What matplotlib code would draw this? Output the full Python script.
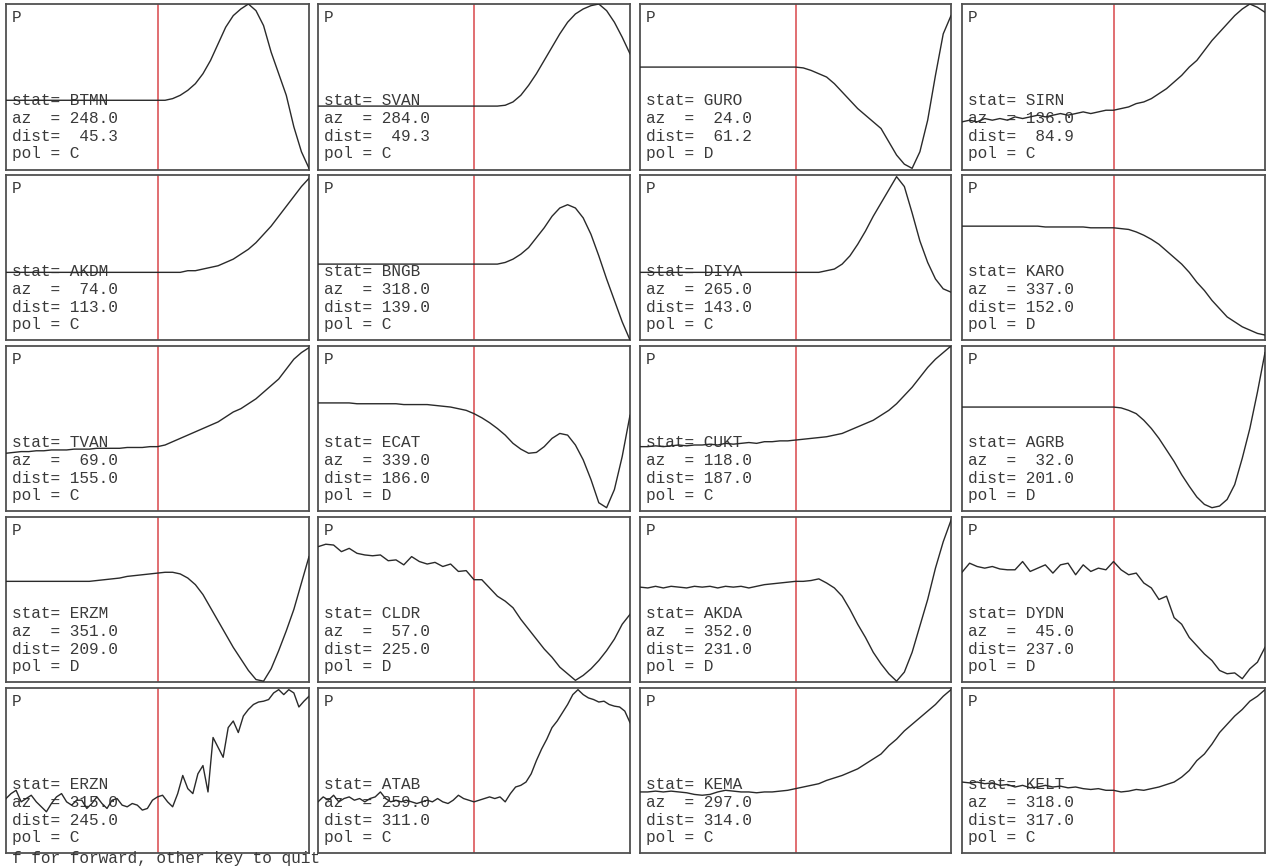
import matplotlib
matplotlib.use("Agg")
import matplotlib.pyplot as plt
import numpy as np

# ---- station metadata -------------------------------------------------------
stations = ["BTMN", "SVAN", "GURO", "SIRN",
            "AKDM", "BNGB", "DIYA", "KARO",
            "TVAN", "ECAT", "CUKT", "AGRB",
            "ERZM", "CLDR", "AKDA", "DYDN",
            "ERZN", "ATAB", "KEMA", "KELT"]
azimuths = [248.0, 284.0, 24.0, 136.0,
            74.0, 318.0, 265.0, 337.0,
            69.0, 339.0, 118.0, 32.0,
            351.0, 57.0, 352.0, 45.0,
            315.0, 259.0, 297.0, 318.0]
distances = [45.3, 49.3, 61.2, 84.9,
             113.0, 139.0, 143.0, 152.0,
             155.0, 186.0, 187.0, 201.0,
             209.0, 225.0, 231.0, 237.0,
             245.0, 311.0, 314.0, 317.0]
polarities = ["C", "C", "D", "C",
              "C", "C", "C", "D",
              "C", "D", "C", "D",
              "D", "D", "D", "D",
              "C", "C", "C", "C"]
phase = "P"
pick_time = 0.5          # P pick, as a fraction of the window
footer = "f for forward, other key to quit"

# ---- normalised waveform samples (evenly spaced across the window) ----------
btmn = [0.42, 0.42, 0.42, 0.42, 0.42, 0.42, 0.42, 0.42, 0.42, 0.42,
        0.42, 0.42, 0.42, 0.42, 0.42, 0.42, 0.42, 0.42, 0.42, 0.42,
        0.42, 0.42, 0.43, 0.45, 0.48, 0.52, 0.58, 0.66, 0.76, 0.86,
        0.93, 0.97, 1.00, 0.96, 0.87, 0.71, 0.58, 0.45, 0.26, 0.11,
        0.01]
svan = [0.385, 0.385, 0.385, 0.385, 0.385, 0.385, 0.385, 0.385, 0.385, 0.385,
        0.385, 0.385, 0.385, 0.385, 0.385, 0.385, 0.385, 0.385, 0.385, 0.385,
        0.385, 0.385, 0.385, 0.385, 0.39, 0.41, 0.45, 0.51, 0.58, 0.66,
        0.74, 0.82, 0.89, 0.94, 0.97, 0.99, 1.00, 0.96, 0.89, 0.80,
        0.70]
guro = [0.62, 0.62, 0.62, 0.62, 0.62, 0.62, 0.62, 0.62, 0.62, 0.62,
        0.62, 0.62, 0.62, 0.62, 0.62, 0.62, 0.62, 0.62, 0.62, 0.62,
        0.62, 0.615, 0.60, 0.58, 0.56, 0.52, 0.47, 0.42, 0.37, 0.33,
        0.29, 0.25, 0.17, 0.09, 0.035, 0.01, 0.11, 0.30, 0.57, 0.82,
        0.93]
sirn = [0.29, 0.30, 0.29, 0.31, 0.30, 0.31, 0.30, 0.32, 0.31, 0.32,
        0.33, 0.32, 0.33, 0.34, 0.33, 0.34, 0.35, 0.34, 0.35, 0.36,
        0.36, 0.37, 0.38, 0.40, 0.41, 0.43, 0.46, 0.49, 0.53, 0.57,
        0.62, 0.66, 0.72, 0.78, 0.83, 0.88, 0.93, 0.97, 1.00, 0.98,
        0.95]
akdm = [0.41, 0.41, 0.41, 0.41, 0.41, 0.41, 0.41, 0.41, 0.41, 0.41,
        0.41, 0.41, 0.41, 0.41, 0.41, 0.41, 0.41, 0.41, 0.41, 0.41,
        0.41, 0.41, 0.41, 0.41, 0.42, 0.42, 0.43, 0.44, 0.45, 0.47,
        0.49, 0.52, 0.55, 0.59, 0.64, 0.69, 0.75, 0.81, 0.87, 0.93,
        0.98]
bngb = [0.46, 0.46, 0.46, 0.46, 0.46, 0.46, 0.46, 0.46, 0.46, 0.46,
        0.46, 0.46, 0.46, 0.46, 0.46, 0.46, 0.46, 0.46, 0.46, 0.46,
        0.46, 0.46, 0.46, 0.46, 0.47, 0.49, 0.52, 0.56, 0.62, 0.68,
        0.75, 0.80, 0.82, 0.80, 0.74, 0.64, 0.51, 0.37, 0.24, 0.11,
        0.00]
diya = [0.41, 0.41, 0.41, 0.41, 0.41, 0.41, 0.41, 0.41, 0.41, 0.41,
        0.41, 0.41, 0.41, 0.41, 0.41, 0.41, 0.41, 0.41, 0.41, 0.41,
        0.41, 0.41, 0.41, 0.41, 0.42, 0.43, 0.46, 0.51, 0.58, 0.66,
        0.75, 0.83, 0.91, 0.99, 0.93, 0.77, 0.60, 0.47, 0.37, 0.31,
        0.29]
karo = [0.69, 0.69, 0.69, 0.69, 0.69, 0.69, 0.69, 0.69, 0.69, 0.69,
        0.69, 0.685, 0.685, 0.685, 0.685, 0.685, 0.685, 0.68, 0.68, 0.68,
        0.68, 0.675, 0.67, 0.655, 0.635, 0.61, 0.58, 0.54, 0.50, 0.46,
        0.41, 0.35, 0.30, 0.24, 0.19, 0.14, 0.11, 0.08, 0.06, 0.04,
        0.03]
tvan = [0.35, 0.355, 0.36, 0.36, 0.365, 0.365, 0.37, 0.37, 0.37, 0.375,
        0.375, 0.375, 0.38, 0.38, 0.38, 0.38, 0.385, 0.385, 0.385, 0.39,
        0.39, 0.40, 0.42, 0.44, 0.46, 0.48, 0.50, 0.52, 0.54, 0.57,
        0.60, 0.62, 0.65, 0.68, 0.72, 0.76, 0.80, 0.86, 0.92, 0.96,
        0.99]
ecat = [0.655, 0.655, 0.655, 0.655, 0.655, 0.65, 0.65, 0.65, 0.65, 0.65,
        0.65, 0.645, 0.645, 0.645, 0.645, 0.64, 0.635, 0.63, 0.62, 0.61,
        0.59, 0.565, 0.535, 0.50, 0.46, 0.41, 0.375, 0.35, 0.355, 0.39,
        0.44, 0.47, 0.46, 0.40, 0.31, 0.19, 0.05, 0.02, 0.13, 0.33,
        0.58]
cukt = [0.39, 0.39, 0.395, 0.39, 0.395, 0.40, 0.395, 0.40, 0.40, 0.405,
        0.40, 0.41, 0.405, 0.41, 0.415, 0.41, 0.42, 0.42, 0.425, 0.425,
        0.43, 0.435, 0.44, 0.445, 0.45, 0.46, 0.47, 0.49, 0.51, 0.53,
        0.55, 0.58, 0.61, 0.65, 0.70, 0.75, 0.81, 0.87, 0.92, 0.96,
        1.00]
agrb = [0.63, 0.63, 0.63, 0.63, 0.63, 0.63, 0.63, 0.63, 0.63, 0.63,
        0.63, 0.63, 0.63, 0.63, 0.63, 0.63, 0.63, 0.63, 0.63, 0.63,
        0.63, 0.625, 0.61, 0.59, 0.55, 0.50, 0.44, 0.37, 0.30, 0.22,
        0.15, 0.085, 0.04, 0.02, 0.03, 0.07, 0.16, 0.32, 0.50, 0.72,
        0.96]
erzm = [0.61, 0.61, 0.61, 0.61, 0.61, 0.61, 0.61, 0.61, 0.61, 0.61,
        0.61, 0.61, 0.615, 0.62, 0.625, 0.63, 0.64, 0.645, 0.65, 0.655,
        0.66, 0.665, 0.665, 0.655, 0.63, 0.59, 0.53, 0.45, 0.37, 0.29,
        0.21, 0.14, 0.07, 0.015, 0.005, 0.08, 0.19, 0.31, 0.44, 0.60,
        0.76]
cldr = [0.82, 0.835, 0.83, 0.79, 0.81, 0.78, 0.77, 0.765, 0.77, 0.735,
        0.74, 0.71, 0.76, 0.73, 0.715, 0.725, 0.70, 0.715, 0.67, 0.675,
        0.62, 0.62, 0.57, 0.52, 0.49, 0.45, 0.38, 0.32, 0.26, 0.20,
        0.15, 0.09, 0.05, 0.01, 0.04, 0.08, 0.13, 0.19, 0.26, 0.35,
        0.41]
akda = [0.575, 0.57, 0.58, 0.57, 0.58, 0.575, 0.57, 0.58, 0.575, 0.58,
        0.57, 0.58, 0.575, 0.58, 0.57, 0.58, 0.59, 0.595, 0.60, 0.605,
        0.61, 0.61, 0.615, 0.625, 0.60, 0.57, 0.52, 0.44, 0.35, 0.27,
        0.18, 0.11, 0.05, 0.005, 0.06, 0.18, 0.34, 0.50, 0.69, 0.85,
        0.98]
dydn = [0.665, 0.72, 0.70, 0.69, 0.70, 0.685, 0.68, 0.68, 0.73, 0.67,
        0.69, 0.71, 0.66, 0.71, 0.72, 0.65, 0.71, 0.67, 0.69, 0.68,
        0.73, 0.68, 0.65, 0.66, 0.60, 0.57, 0.50, 0.52, 0.39, 0.35,
        0.27, 0.22, 0.17, 0.13, 0.07, 0.05, 0.055, 0.02, 0.08, 0.12,
        0.21]
erzn = [0.33, 0.36, 0.38, 0.31, 0.33, 0.35, 0.31, 0.28, 0.25, 0.30,
        0.34, 0.36, 0.31, 0.29, 0.32, 0.32, 0.27, 0.30, 0.34, 0.30,
        0.27, 0.32, 0.33, 0.29, 0.28, 0.30, 0.29, 0.26, 0.27, 0.32,
        0.34, 0.35, 0.31, 0.28, 0.36, 0.47, 0.39, 0.36, 0.48, 0.53,
        0.37, 0.70, 0.64, 0.58, 0.76, 0.80, 0.73, 0.83, 0.87, 0.90,
        0.915, 0.92, 0.93, 0.97, 0.99, 0.96, 0.99, 0.97, 0.885, 0.92,
        0.95]
atab = [0.31, 0.34, 0.32, 0.35, 0.31, 0.33, 0.34, 0.32, 0.33, 0.31,
        0.33, 0.34, 0.37, 0.33, 0.31, 0.32, 0.31, 0.32, 0.31, 0.30,
        0.31, 0.32, 0.31, 0.33, 0.31, 0.30, 0.32, 0.35, 0.33, 0.32,
        0.31, 0.32, 0.33, 0.34, 0.33, 0.34, 0.31, 0.36, 0.40, 0.41,
        0.43, 0.48, 0.56, 0.63, 0.69, 0.76, 0.80, 0.85, 0.90, 0.96,
        0.99, 0.96, 0.94, 0.93, 0.915, 0.92, 0.90, 0.89, 0.885, 0.86,
        0.79]
kema = [0.37, 0.37, 0.375, 0.37, 0.375, 0.37, 0.365, 0.355, 0.35, 0.355,
        0.37, 0.38, 0.375, 0.37, 0.37, 0.365, 0.37, 0.37, 0.375, 0.38,
        0.39, 0.40, 0.41, 0.42, 0.44, 0.455, 0.47, 0.49, 0.51, 0.54,
        0.57, 0.60, 0.65, 0.69, 0.74, 0.78, 0.82, 0.86, 0.90, 0.95,
        0.99]
kelt = [0.43, 0.425, 0.43, 0.42, 0.425, 0.41, 0.415, 0.40, 0.41, 0.395,
        0.40, 0.41, 0.40, 0.405, 0.395, 0.40, 0.39, 0.385, 0.39, 0.38,
        0.38, 0.37, 0.375, 0.385, 0.38, 0.39, 0.40, 0.415, 0.43, 0.46,
        0.50, 0.56, 0.60, 0.66, 0.73, 0.78, 0.83, 0.87, 0.92, 0.95,
        0.99]

traces = [btmn, svan, guro, sirn,
          akdm, bngb, diya, karo,
          tvan, ecat, cukt, agrb,
          erzm, cldr, akda, dydn,
          erzn, atab, kema, kelt]

# ---- page layout (pixels) ---------------------------------------------------
W, H, DPI = 1269, 866, 100
col_edges = [(6, 309), (318, 630), (640, 951), (962, 1265)]
row_edges = [(4, 170), (175, 340), (346, 511), (517, 682), (688, 853)]

TEXT_FONT = dict(family=["Liberation Mono", "DejaVu Sans Mono"], size=11.6,
                 color="#3a3a3a")
TRACE_COLOR = "#2a2a2a"
PICK_COLOR = "#d8474a"
FRAME_COLOR = "#505050"

fig = plt.figure(figsize=(W / DPI, H / DPI), dpi=DPI, facecolor="white")

for k, name in enumerate(stations):
    r, c = divmod(k, 4)
    left, right = col_edges[c]
    top, bottom = row_edges[r]
    ax = fig.add_axes([left / W, 1 - bottom / H, (right - left) / W, (bottom - top) / H])
    ax.set_xlim(0, 1)
    ax.set_ylim(0, 1)
    ax.set_xticks([])
    ax.set_yticks([])
    for sp in ax.spines.values():
        sp.set_color(FRAME_COLOR)
        sp.set_linewidth(1.3)

    samples = np.asarray(traces[k])
    t = np.linspace(0, 1, len(samples))
    ax.axvline(pick_time, color=PICK_COLOR, lw=1.1, zorder=2)

    lines = [
        (phase, 18),
        (f"stat= {name}", 101),
        (f"az  = {azimuths[k]:5.1f}", 119),
        (f"dist= {distances[k]:5.1f}", 137),
        (f"pol = {polarities[k]}", 154),
    ]
    for txt, dy in lines:
        ax.annotate(txt, xy=(0, 1), xycoords="axes fraction",
                    xytext=(6, -dy), textcoords="offset pixels",
                    ha="left", va="baseline", zorder=3, **TEXT_FONT)

    ax.plot(t, samples, color=TRACE_COLOR, lw=1.0, zorder=4,
            solid_joinstyle="round")

fig.text(12 / W, (H - 863) / H, footer, ha="left", va="baseline", **TEXT_FONT)

fig.savefig("out.png", dpi=DPI, facecolor="white")
